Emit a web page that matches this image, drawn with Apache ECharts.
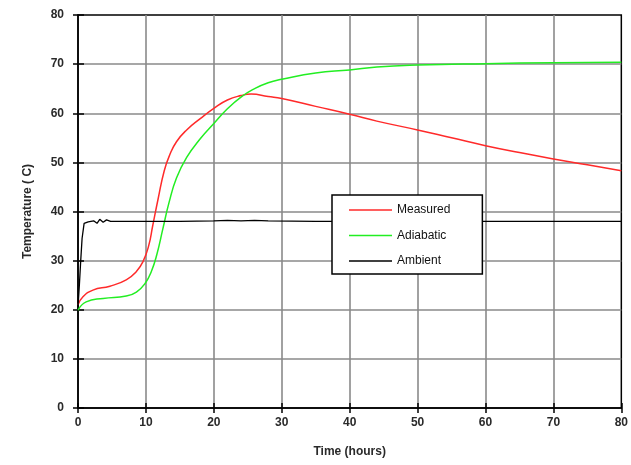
<!DOCTYPE html>
<html>
<head>
<meta charset="utf-8">
<script src="https://cdn.jsdelivr.net/npm/echarts@6/dist/echarts.min.js"></script>
<style>
  html, body { margin: 0; padding: 0; background: #fff; }
  #chart { width: 631px; height: 465px; }
</style>
</head>
<body>
<div id="chart"></div>
<script>
// Temperature history: [hours, degrees C]
const measured = [
  [0, 21.0], [0.7, 22.6], [2.2, 24.0], [4.7, 24.8], [7.1, 26.1], [8.6, 27.8],
  [9.6, 29.9], [10.4, 33.0], [11.0, 37.1], [11.8, 42.6], [12.7, 48.3], [13.5, 51.5],
  [14.5, 54.2], [16, 56.6], [18, 58.9], [20, 61.0], [22, 62.7], [24, 63.6],
  [25.5, 63.9], [28, 63.4], [30, 63.0], [35, 61.4], [40, 59.8], [44, 58.4],
  [50, 56.6], [55, 55.0], [60, 53.4], [65, 52.0], [70, 50.7], [75, 49.5], [80, 48.3]
];
const adiabatic = [
  [0, 19.9], [1.2, 21.6], [3.7, 22.3], [7.1, 22.8], [8.6, 23.6], [9.9, 25.4],
  [10.8, 27.8], [11.6, 31.2], [12.5, 36.5], [13.4, 41.8], [14.5, 46.8],
  [16, 51.0], [18, 54.8], [20, 57.9], [22, 60.9], [24, 63.3], [26, 65.0],
  [28, 66.2], [30, 66.9], [35, 68.2], [40, 68.8], [44, 69.4], [50, 69.8],
  [60, 70.1], [70, 70.3], [80, 70.4]
];
const ambient = [
  [0, 20.6], [0.2, 25.0], [0.4, 30.0], [0.6, 34.5], [0.9, 37.6], [1.5, 37.9],
  [2.3, 38.1], [2.8, 37.6], [3.2, 38.4], [3.7, 37.8], [4.2, 38.3], [4.8, 38.0],
  [6, 38.0], [10, 38.0], [15, 38.0], [20, 38.1], [22, 38.2], [24, 38.1],
  [26, 38.2], [28, 38.1], [35, 38.0], [45, 38.0], [55, 38.0], [65, 38.0],
  [75, 38.0], [80, 38.0]
];

const xRange = { min: 0, max: 80, interval: 10 };
const yRange = { min: 0, max: 80, interval: 10 };

const labelFont = { fontFamily: 'Liberation Sans, Arial, sans-serif', fontSize: 12, fontWeight: 'bold', color: '#2a2a2a' };
const axisLine = { show: true, lineStyle: { color: '#000', width: 1.5 } };
const grayGrid = { show: true, showMinLine: false, showMaxLine: false, lineStyle: { color: '#8a8a8a', width: 1.6 } };

const chart = echarts.init(document.getElementById('chart'));
chart.setOption({
  animation: false,
  backgroundColor: '#fff',
  grid: { left: 78, right: 7, top: 15, bottom: 57, show: true, borderColor: '#000', borderWidth: 1.5, backgroundColor: 'transparent' },
  legend: {
    orient: 'vertical',
    left: 332, top: 195,
    padding: [9, 32, 7, 17],
    itemGap: 13.5,
    itemWidth: 43,
    itemHeight: 1.5,
    icon: 'rect',
    backgroundColor: '#fff',
    borderColor: '#000',
    borderWidth: 1.5,
    borderRadius: 0,
    textStyle: { fontFamily: 'Liberation Sans, Arial, sans-serif', fontSize: 12, color: '#111' },
    data: ['Measured', 'Adiabatic', 'Ambient']
  },
  xAxis: [
    Object.assign({
      type: 'value', position: 'bottom',
      name: 'Time (hours)', nameLocation: 'middle', nameGap: 38,
      nameTextStyle: labelFont,
      axisLine: axisLine,
      axisTick: { show: true, inside: false, length: 5, lineStyle: { color: '#000', width: 1.5 } },
      axisLabel: Object.assign({ margin: 9 }, labelFont),
      splitLine: grayGrid
    }, xRange),
    Object.assign({
      type: 'value', position: 'bottom',
      axisLine: { show: false },
      axisTick: { show: true, inside: true, length: 5, lineStyle: { color: '#000', width: 1.5 } },
      axisLabel: { show: false },
      splitLine: { show: false }
    }, xRange)
  ],
  yAxis: [
    Object.assign({
      type: 'value', position: 'left',
      name: 'Temperature ( C)', nameLocation: 'middle', nameGap: 44,
      nameTextStyle: labelFont,
      axisLine: axisLine,
      axisTick: { show: true, inside: false, length: 5, lineStyle: { color: '#000', width: 1.5 } },
      axisLabel: Object.assign({ margin: 14 }, labelFont),
      splitLine: grayGrid
    }, yRange),
    Object.assign({
      type: 'value', position: 'left',
      axisLine: { show: false },
      axisTick: { show: true, inside: true, length: 6, lineStyle: { color: '#000', width: 1.5 } },
      axisLabel: { show: false },
      splitLine: { show: false }
    }, yRange)
  ],
  series: [
    { name: 'Measured', type: 'line', data: measured, smooth: 0.5, symbol: 'none', lineStyle: { color: '#ff2a2a', width: 1.5 }, itemStyle: { color: '#ff2a2a' } },
    { name: 'Adiabatic', type: 'line', data: adiabatic, smooth: 0.5, symbol: 'none', lineStyle: { color: '#22ee22', width: 1.5 }, itemStyle: { color: '#22ee22' } },
    { name: 'Ambient', type: 'line', data: ambient, symbol: 'none', lineStyle: { color: '#000', width: 1.3 }, itemStyle: { color: '#000' } }
  ]
});
</script>
</body>
</html>
